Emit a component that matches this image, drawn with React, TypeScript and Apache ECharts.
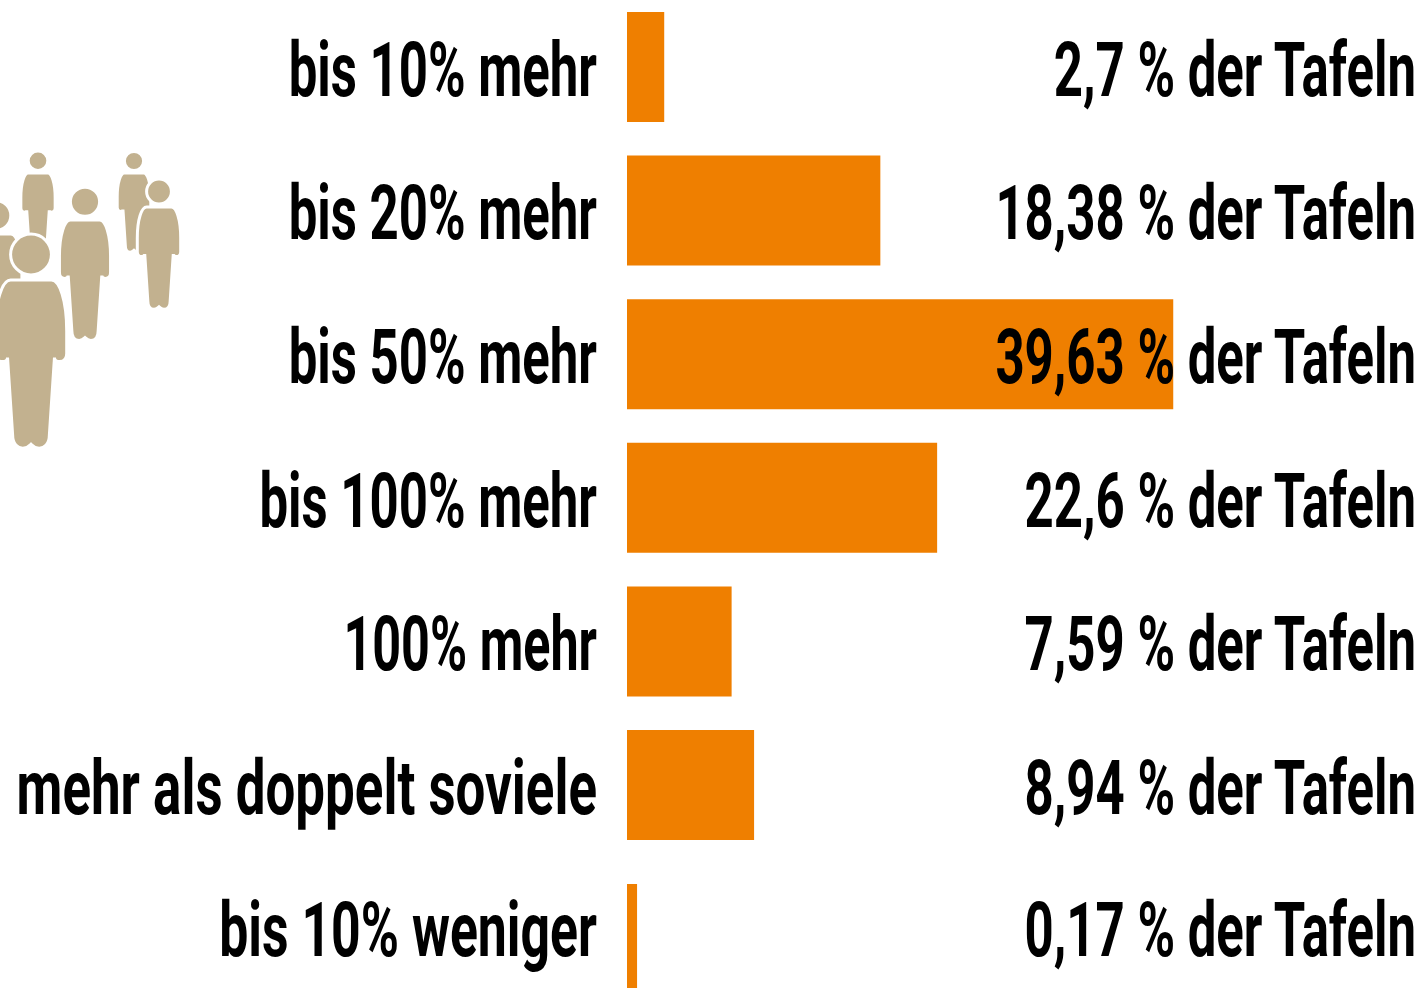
import React, { useEffect, useRef } from "react";
import * as echarts from "echarts";

const upperCategories = ["bis 10% mehr", "bis 20% mehr", "bis 50% mehr", "bis 100% mehr", "100% mehr", "mehr als doppelt soviele"];
const upperBars = [2.7, 18.38, 39.63, 22.5, 7.59, 9.22];
const upperLabels = ["2,7 % der Tafeln", "18,38 % der Tafeln", "39,63 % der Tafeln", "22,6 % der Tafeln", "7,59 % der Tafeln", "8,94 % der Tafeln"];
const lowerCategories = ["bis 10% weniger"];
const lowerBars = [0.73];
const lowerLabels = ["0,17 % der Tafeln"];

const PERSON =
  "M -20 0 L 20 0 C 28 0 35 20 35 50 L 35 72 C 35 78 31 80 28 80 C 25 80 23 78 23 76 L 18 152 C 18 161 13 165 8 165 C 4 165 2 163 0 161 C -2 163 -4 165 -8 165 C -13 165 -18 161 -18 152 L -23 76 C -23 78 -25 80 -28 80 C -31 80 -35 78 -35 72 L -35 50 C -35 20 -28 0 -20 0 Z M 20 -25 A 20 20 0 1 1 -20 -25 A 20 20 0 1 1 20 -25 Z";
echarts.graphic.registerShape("person", echarts.graphic.extendPath(PERSON, {}));

const TAN = "#C2B18F";
const ORANGE = "#EF7F00";
const FONT = { fontFamily: "Roboto", fontWeight: "bold" as const, fontSize: 76, fill: "#000" };
const SQUEEZE = 0.67;
const UPPER_LEFT_SQUEEZE = [0.67, 0.67, 0.67, 0.67, 0.662, 0.696];
const LOWER_LEFT_SQUEEZE = [0.681];
const UPPER_RIGHT_SQUEEZE = upperLabels.map(() => SQUEEZE);
const LOWER_RIGHT_SQUEEZE = lowerLabels.map(() => SQUEEZE);

function person(x: number, y: number, s: number) {
  return {
    type: "person",
    x,
    y,
    scaleX: s,
    scaleY: s,
    style: { fill: TAN, stroke: "#fff", lineWidth: 3 / s },
  };
}

function textSeries(idx: number, cats: string[], texts: string[], left: boolean, dy: number, squeeze: number[]) {
  return {
    type: "custom",
    xAxisIndex: idx,
    yAxisIndex: idx,
    z: 5,
    silent: true,
    encode: { x: 0, y: 1 },
    data: cats.map((c) => [0, c]),
    renderItem: (params: any, api: any) => {
      const p = api.coord([0, api.value(1)]);
      return {
        type: "text",
        x: left ? p[0] - 30 : p[0] + 789,
        y: p[1] + dy,
        scaleX: squeeze[params.dataIndex],
        style: { ...FONT, text: texts[params.dataIndex], align: "right", verticalAlign: "middle" },
      };
    },
  };
}

export default function App() {
  const ref = useRef<HTMLDivElement>(null);
  useEffect(() => {
    const chart = echarts.init(ref.current!, undefined, { renderer: "svg" });
    const xAxis = { type: "value" as const, min: 0, max: 57.75, show: false };
    chart.setOption({
      animation: false,
      backgroundColor: "#fff",
      grid: [
        { left: 627, width: 796, top: -4.8, height: 861.6, outerBoundsMode: "none" },
        { left: 627, width: 796, top: 867.2, height: 143.6, outerBoundsMode: "none" },
      ],
      xAxis: [{ ...xAxis, gridIndex: 0 }, { ...xAxis, gridIndex: 1 }],
      yAxis: [
        { type: "category", gridIndex: 0, inverse: true, data: upperCategories, show: false },
        { type: "category", gridIndex: 1, inverse: true, data: lowerCategories, show: false },
      ],
      series: [
        { type: "bar", xAxisIndex: 0, yAxisIndex: 0, data: upperBars, barWidth: 110, itemStyle: { color: ORANGE }, silent: true },
        { type: "bar", xAxisIndex: 1, yAxisIndex: 1, data: lowerBars, barWidth: 110, itemStyle: { color: ORANGE }, silent: true },
        textSeries(0, upperCategories, upperCategories, true, 3, UPPER_LEFT_SQUEEZE),
        textSeries(0, upperCategories, upperLabels, false, 3, UPPER_RIGHT_SQUEEZE),
        textSeries(1, lowerCategories, lowerCategories, true, -9, LOWER_LEFT_SQUEEZE),
        textSeries(1, lowerCategories, lowerLabels, false, -9, LOWER_RIGHT_SQUEEZE),
      ],
      graphic: [
        {
          type: "group",
          children: [
            person(38, 173, 0.49),
            person(134, 173, 0.48),
            person(-4, 234, 0.74),
            person(85, 220, 0.73),
            person(159, 207, 0.62),
            person(31, 280, 1.02),
          ],
        },
      ],
    } as any);
    return () => chart.dispose();
  }, []);
  return (
    <div
      ref={ref}
      style={{ position: "absolute", left: 0, top: 0, width: 1423, height: 988, overflow: "hidden" }}
    />
  );
}
